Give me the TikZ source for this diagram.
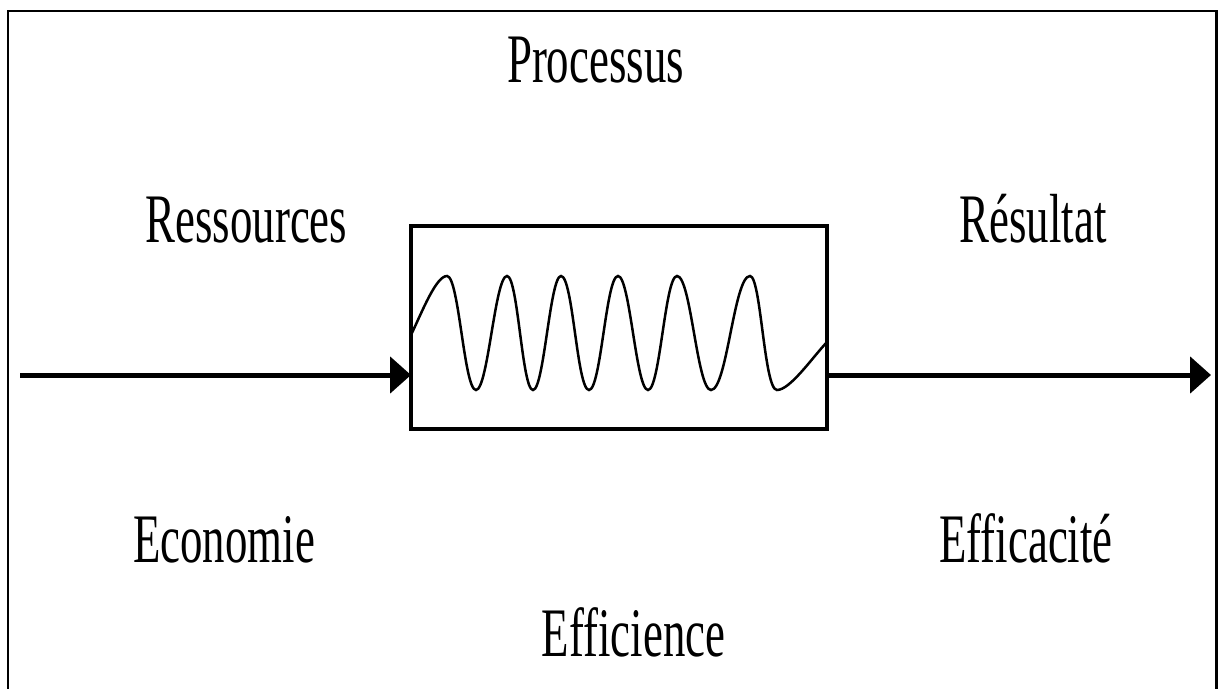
\documentclass[tikz,border=0pt]{standalone}
\usepackage{graphicx}
\usepackage{fontspec}
\setmainfont{Liberation Serif}
\usetikzlibrary{arrows.meta}
\newcommand\narrowlbl[1]{\scalebox{0.645}[1]{\fontsize{69.5}{80}\selectfont #1}}
\tikzset{
  lbl/.style={inner sep=0pt, outer sep=0pt, anchor=base, font=\fontsize{69.5}{80}\selectfont},
  procbox/.style={draw, line width=4pt, minimum width=416pt, minimum height=203pt, inner sep=0pt, outer sep=0pt},
  flow/.style={line width=5pt, -{Triangle[length=21pt,width=36pt]}},
  wave/.style={line width=2.5pt},
  frame/.style={line width=2.5pt}
}
\begin{document}
\begin{tikzpicture}[x=1pt,y=-1pt]
\useasboundingbox (0,0) rectangle (1218,688);
% outer frame
\draw[frame] (8,690) -- (8,11) -- (1216.5,11) -- (1216.5,690);
% texts
\node[lbl] (proc) at (595.5,82) {\narrowlbl{Processus}};
\node[lbl] (res) at (246.5,242) {\narrowlbl{Ressources}};
\node[lbl] (result) at (1033,242) {\narrowlbl{Résultat}};
\node[lbl] (eco) at (224,562) {\narrowlbl{Economie}};
\node[lbl] (effica) at (1026,562) {\narrowlbl{Efficacité}};
\node[lbl] (effic) at (633.5,656) {\narrowlbl{Efficience}};
% process box
\node[procbox] (box) at (619,327.5) {};
% wave
\draw[wave] (411,335) .. controls (422,312) and (436,276) .. (447,276)
  .. controls (459,276) and (464,390) .. (476,390)
  .. controls (488,390) and (495,276) .. (507,276)
  .. controls (518,276) and (522,390) .. (533,390)
  .. controls (544,390) and (550,276) .. (561,276)
  .. controls (573,276) and (577,390) .. (589,390)
  .. controls (601,390) and (606,276) .. (618,276)
  .. controls (630,276) and (636,390) .. (648,390)
  .. controls (660,390) and (665,276) .. (677,276)
  .. controls (691,276) and (697,390) .. (711,390)
  .. controls (727,390) and (734,276) .. (750,276)
  .. controls (761,276) and (764,390) .. (777,390)
  .. controls (790,390) and (812,358) .. (827,342);
% flows
\coordinate (in) at (20,375);
\coordinate (out) at (1211,375);
\draw[flow] (in) -- (in -| box.west);
\draw[flow] (out -| box.east) -- (out);
\end{tikzpicture}
\end{document}
